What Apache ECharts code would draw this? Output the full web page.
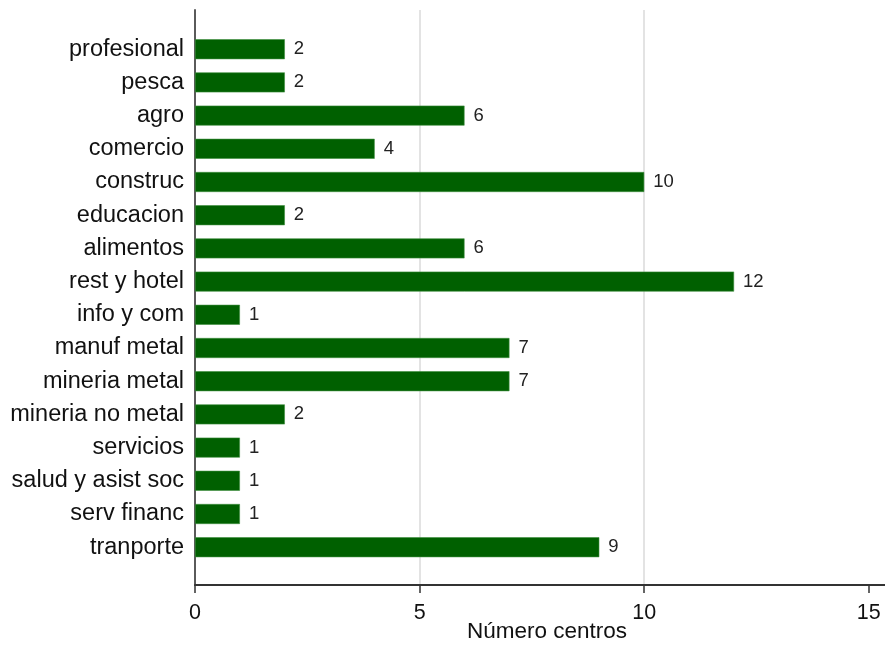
<!DOCTYPE html>
<html>
<head>
<meta charset="utf-8">
<script src="https://cdn.jsdelivr.net/npm/echarts@6/dist/echarts.min.js"></script>
<style>
html,body{margin:0;padding:0;background:#fff;}
#main{width:885px;height:652px;}
</style>
</head>
<body>
<div id="main"></div>
<script>
var categories = ['profesional','pesca','agro','comercio','construc','educacion','alimentos','rest y hotel','info y com','manuf metal','mineria metal','mineria no metal','servicios','salud y asist soc','serv financ','tranporte'];
var values = [2,2,6,4,10,2,6,12,1,7,7,2,1,1,1,9];
var xTicks = [0,5,10,15];
var xMin = 0;
var xMax = 15.36;
var xInterval = 5;
var xTitle = 'Número centros';

var FONT = "'Liberation Sans', Arial, sans-serif";
var chart = echarts.init(document.getElementById('main'), null, {renderer:'canvas'});
chart.setOption({
  backgroundColor:'#fff',
  animation:false,
  grid:[
    {left:195, right:0, top:10, bottom:67},
    {left:195, right:0, top:32.6, bottom:88.2}
  ],
  xAxis:[
    {gridIndex:0, type:'value', min:xMin, max:xMax, interval:xInterval,
     axisLine:{show:true, lineStyle:{color:'#333', width:2}},
     axisTick:{show:true, inside:false, length:8, customValues:xTicks, lineStyle:{color:'#333', width:1.5}},
     axisLabel:{show:true, margin:17, fontSize:21.5, color:'#111', fontFamily:FONT, showMaxLabel:false},
     splitLine:{show:true, showMinLine:false, showMaxLine:false, lineStyle:{color:['#e3e3e3','#e3e3e3','rgba(0,0,0,0)'], width:2}}
    },
    {gridIndex:1, type:'value', min:xMin, max:xMax, show:false}
  ],
  yAxis:[
    {gridIndex:0, type:'value', min:0, max:1,
     axisLine:{show:true, lineStyle:{color:'#5a5a5a', width:2}},
     axisTick:{show:false}, axisLabel:{show:false}, splitLine:{show:false}},
    {gridIndex:1, type:'category', data:categories, inverse:true,
     axisLine:{show:false}, axisTick:{show:false}, splitLine:{show:false},
     axisLabel:{margin:11, fontSize:23.5, color:'#111', fontFamily:FONT}}
  ],
  series:[{
    type:'bar', xAxisIndex:1, yAxisIndex:1, data:values, barWidth:20,
    itemStyle:{color:'#006000', borderColor:'#3f8f3f', borderWidth:0.6},
    label:{show:true, position:'right', distance:9, fontSize:18.5, color:'#222', fontFamily:FONT}
  }],
  graphic:[{
    type:'text', x:547, y:632,
    style:{text:xTitle, fontSize:22.5, fill:'#111', fontFamily:FONT, textAlign:'center', textVerticalAlign:'middle'}
  }]
});
</script>
</body>
</html>
